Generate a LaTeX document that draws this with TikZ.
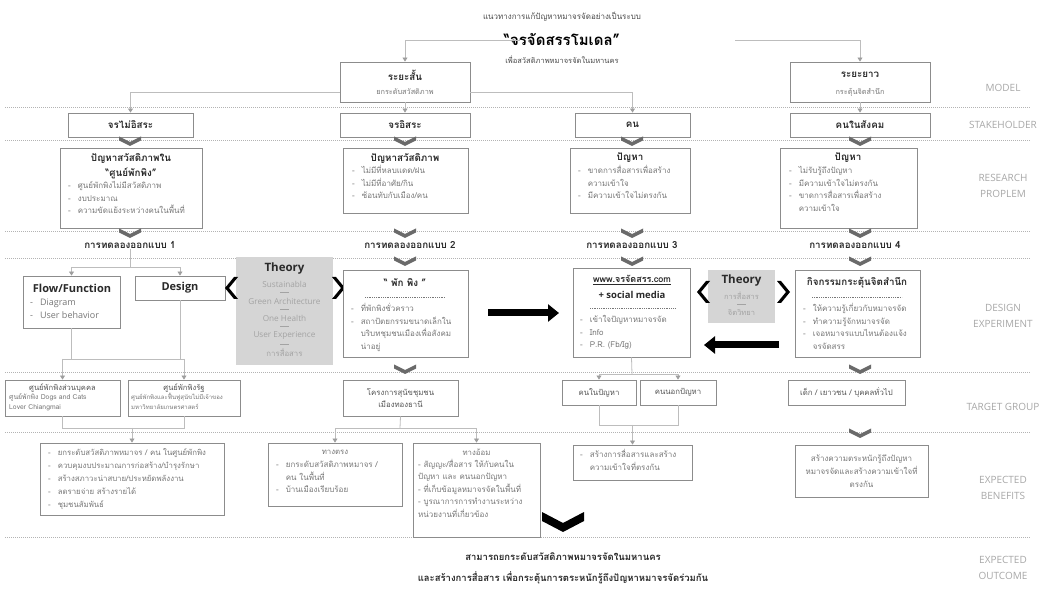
\documentclass[tikz,border=0pt]{standalone}
\usepackage{fontspec}
\setmainfont[Script=Thai]{Loma}
\newfontfamily\en{Open Sans}
\usetikzlibrary{arrows.meta,fit,calc}
\definecolor{bxc}{HTML}{8C8C8C}
\definecolor{cnc}{HTML}{BDBDBD}
\definecolor{ahc}{HTML}{9E9E9E}
\definecolor{dk}{HTML}{2A2A2A}
\definecolor{itc}{HTML}{777777}
\definecolor{thf}{HTML}{D5D5D5}
\definecolor{tht}{HTML}{A3A3A3}
\definecolor{sepc}{HTML}{B3B3B3}
\definecolor{chc}{HTML}{6A6A6A}
\definecolor{lbc}{HTML}{A8A8A8}
\newcommand\mylist[1]{\begin{tabular}{@{}l@{\hspace{7pt}}l@{}}#1\end{tabular}}
\tikzset{
 bx/.style={draw=bxc, line width=0.9pt, fill=white, inner sep=0pt},
 thbox/.style={fill=thf, draw=none, inner sep=0pt},
 hd/.style={font=\bfseries\fontsize{9.8}{11}\selectfont, text=dk, inner sep=0pt},
 ehd/.style={font=\en\bfseries\fontsize{11}{13}\selectfont, text=dk, inner sep=0pt},
 sb/.style={font=\fontsize{7.3}{9}\selectfont, text=itc, inner sep=0pt},
 lst/.style={font=\fontsize{8}{12.5}\selectfont, text=itc, inner sep=0pt, anchor=north west, align=left},
 elst/.style={font=\en\fontsize{9}{13}\selectfont, text=itc, inner sep=0pt, anchor=north west, align=left},
 thtxt/.style={font=\en\fontsize{8.2}{9}\selectfont, text=tht, inner sep=0pt},
 cn/.style={draw=cnc, line width=0.8pt},
 ar/.style={cn, -{Triangle[width=5pt,length=4pt,fill=ahc,color=ahc]}},
 sepl/.style={draw=sepc, line width=0.7pt, dash pattern=on 0.8pt off 1.2pt},
 dsh/.style={draw=itc, line width=0.5pt, dash pattern=on 1pt off 0.8pt},
 lbl/.style={font=\en\fontsize{10}{16}\selectfont, text=lbc, align=center},
 chev/.pic={\fill[chc] (-11,-4.5) -- (0,1) -- (11,-4.5) -- (11,-0.5) -- (0,5) -- (-11,-0.5) -- cycle;},
 lbr/.pic={\fill[black] (5,-11) -- (-4,0) -- (5,11) -- (9,11) -- (0,0) -- (9,-11) -- cycle;},
 rbr/.pic={\fill[black] (-5,-11) -- (4,0) -- (-5,11) -- (-9,11) -- (0,0) -- (-9,-11) -- cycle;},
 bigchev/.pic={\fill[black] (-21,-10) -- (0,1) -- (21,-10) -- (21,-1) -- (0,10) -- (-21,-1) -- cycle;},
 bigarr/.style={line width=7pt, -{Triangle[width=17pt,length=11pt]}},
}
\begin{document}
\begin{tikzpicture}[x=1pt,y=-1pt]
\useasboundingbox[fill=white] (0,0) rectangle (1050,593);

% separators
\foreach \yy in {107,140,231,258,372,432,537} {\draw[sepl] (5,\yy) -- (1030,\yy);}

% title
\node[font=\fontsize{8}{10}\selectfont, text=dk!85] (ttop) at (562,17) {แนวทางการแก้ปัญหาหมาจรจัดอย่างเป็นระบบ};
\node[font=\bfseries\fontsize{15}{17}\selectfont, text=black] (ttl) at (562,39) {“จรจัดสรรโมเดล”};
\node[font=\fontsize{7.5}{9}\selectfont, text=dk!85] (tsub) at (562,60) {เพื่อสวัสดิภาพหมาจรจัดในมหานคร};
\coordinate (tl) at (520,40);
\coordinate (tr) at (735,40);

% right labels
\node[lbl] (lmodel) at (1003,88) {MODEL};
\node[lbl] (lstake) at (1003,125) {STAKEHOLDER};
\node[lbl] (lres) at (1003,186) {RESEARCH\\PROPLEM};
\node[lbl] (ldes) at (1003,316) {DESIGN\\EXPERIMENT};
\node[lbl] (ltar) at (1003,407) {TARGET GROUP};
\node[lbl] (lben) at (1003,488) {EXPECTED\\BENEFITS};
\node[lbl] (lout) at (1003,568) {EXPECTED\\OUTCOME};

% model
\node[bx, fit={(340,62) (470,102)}] (m1) {};
\node[hd] (m1a) at (405,75) {ระยะสั้น};
\node[sb] (m1b) at (405,92) {ยกระดับสวัสดิภาพ};
\node[bx, fit={(790,62) (930,102)}] (m2) {};
\node[hd] (m2a) at (860,75) {ระยะยาว};
\node[sb] (m2b) at (860,92) {กระตุ้นจิตสำนึก};
\draw[ar] (tl) -| (m1.north);
\draw[ar] (tr) -| (m2.north);

% stakeholders
\node[bx, fit={(68,113) (193,137)}] (s1) {};
\node[hd] (s1a) at (s1) {จรไม่อิสระ};
\node[bx, fit={(340,113) (470,137)}] (s2) {};
\node[hd] (s2a) at (s2) {จรอิสระ};
\node[bx, fit={(575,113) (690,137)}] (s3) {};
\node[hd] (s3a) at (s3) {คน};
\node[bx, fit={(790,113) (930,137)}] (s4) {};
\node[hd] (s4a) at (s4) {คนในสังคม};
\draw[ar] ($(m1.west)+(0,10)$) -| (s1.north);
\draw[ar] (m1.south) -- (s2.north);
\draw[ar] ($(m1.east)+(0,10)$) -| (s3.north);
\draw[ar] (m2.south) -- (s4.north);
\foreach \xx in {130,405,632,860} {\pic at (\xx,141) {chev};}

% research problems
\node[bx, fit={(60,148) (202,228)}] (r1) {};
\node[hd] (r1a) at (131,158) {ปัญหาสวัสดิภาพใน};
\node[hd] (r1b) at (131,173) {“ศูนย์พักพิง”};
\node[lst] (r1c) at (68,180) {\mylist{- & ศูนย์พักพิงไม่มีสวัสดิภาพ\\ - & งบประมาณ\\ - & ความขัดแย้งระหว่างคนในพื้นที่}};
\node[bx, fit={(343,148) (468,213)}] (r2) {};
\node[hd] (r2a) at (405,158) {ปัญหาสวัสดิภาพ};
\node[lst] (r2c) at (352,165) {\mylist{- & ไม่มีที่หลบแดด/ฝน\\ - & ไม่มีที่อาศัย/กิน\\ - & ซ้อนทับกับเมือง/คน}};
\node[bx, fit={(570,148) (690,213)}] (r3) {};
\node[hd] (r3a) at (630,158) {ปัญหา};
\node[lst] (r3c) at (578,165) {\mylist{- & ขาดการสื่อสารเพื่อสร้าง\\ & ความเข้าใจ\\ - & มีความเข้าใจไม่ตรงกัน}};
\node[bx, fit={(780,148) (917,228)}] (r4) {};
\node[hd] (r4a) at (848,158) {ปัญหา};
\node[lst] (r4c) at (789,165) {\mylist{- & ไม่รับรู้ถึงปัญหา\\ - & มีความเข้าใจไม่ตรงกัน\\ - & ขาดการสื่อสารเพื่อสร้าง\\ & ความเข้าใจ}};
\foreach \xx in {130,405,632,860} {\pic at (\xx,233) {chev};}

% experiment titles
\node[hd] (e1) at (130,245) {การทดลองออกแบบ 1};
\node[hd] (e2) at (410,245) {การทดลองออกแบบ 2};
\node[hd] (e3) at (632,245) {การทดลองออกแบบ 3};
\node[hd] (e4) at (855,245) {การทดลองออกแบบ 4};
\foreach \xx in {405,632,860} {\pic at (\xx,261) {chev};}

% design col 1
\node[bx, fit={(23,276) (120,328)}] (d1a) {};
\node[ehd] (d1at) at (72,288) {Flow/Function};
\node[elst] (d1al) at (30,296) {\mylist{- & Diagram\\ - & User behavior}};
\node[bx, fit={(135,276) (225,300)}] (d1b) {};
\node[ehd] (d1bt) at (d1b) {Design};
\coordinate (j1) at (130,267);
\draw[cn] (e1.south) -- (j1);
\draw[ar] (j1) -| (d1a.north);
\draw[ar] (j1) -| (d1b.north);

% theory 1
\node[thbox, fit={(236,257) (333,365)}] (th1) {};
\node[ehd, font=\en\bfseries\fontsize{11.5}{13}\selectfont] (th1t) at (284.5,269) {Theory};
\node[thtxt] (th1a) at (284.5,284) {Sustainabla};
\node[thtxt] (th1b) at (284.5,301) {Green Architecture};
\node[thtxt] (th1c) at (284.5,318) {One Health};
\node[thtxt] (th1d) at (284.5,335) {User Experience};
\node[thtxt, font=\fontsize{7.8}{9}\selectfont] (th1e) at (284.5,353) {การสื่อสาร};
\foreach \yy in {292.5,309.5,326.5,344} {\draw[tht, line width=0.5pt] (280,\yy) -- (289,\yy);}
\pic at (229,288) {lbr};
\pic at (341,288) {rbr};

% design col 2
\node[bx, fit={(343,270) (468,357)}] (d2) {};
\node[hd] (d2t) at (405,283) {“ พัก พิง ”};
\draw[dsh] (365,297) -- (445,297);
\node[lst] (d2l) at (351,303) {\mylist{- & ที่พักพิงชั่วคราว\\ - & สถาปัตยกรรมขนาดเล็กใน\\ & บริบทชุมชนเมืองเพื่อสังคม\\ & น่าอยู่}};
\coordinate (a1s) at (488,313);
\coordinate (a1e) at (559,313);
\draw[bigarr] (a1s) -- (a1e);

% design col 3
\node[bx, fit={(573,268) (690,357)}] (d3) {};
\node[hd, font=\bfseries\fontsize{9}{10}\selectfont] (d3t) at (632,280) {\underline{www.จรจัดสรร.com}};
\node[ehd, font=\en\bfseries\fontsize{9.5}{11}\selectfont] (d3u) at (632,295) {+ social media};
\draw[dsh] (590,308) -- (675,308);
\node[lst] (d3l) at (580,314) {\mylist{- & เข้าใจปัญหาหมาจรจัด\\ - & Info\\ - & P.R. (Fb/Ig)}};

% theory 2
\node[thbox, fit={(708,270) (775,323)}] (th2) {};
\node[ehd, font=\en\bfseries\fontsize{11.5}{13}\selectfont] (th2t) at (741.5,281) {Theory};
\node[thtxt, font=\fontsize{7.5}{9}\selectfont] (th2a) at (741.5,296) {การสื่อสาร};
\draw[tht, line width=0.5pt] (737,304) -- (746,304);
\node[thtxt, font=\fontsize{7.5}{9}\selectfont] (th2b) at (741.5,313) {จิตวิทยา};
\pic at (701,292) {lbr};
\pic at (786,292) {rbr};
\coordinate (a2s) at (779,345);
\coordinate (a2e) at (704,345);
\draw[bigarr] (a2s) -- (a2e);

% design col 4
\node[bx, fit={(795,270) (920,357)}] (d4) {};
\node[hd] (d4t) at (857,283) {กิจกรรมกระตุ้นจิตสำนึก};
\draw[dsh] (812,297) -- (902,297);
\node[lst] (d4l) at (803,303) {\mylist{- & ให้ความรู้เกี่ยวกับหมาจรจัด\\ - & ทำความรู้จักหมาจรจัด\\ - & เจอหมาจรแบบไหนต้องแจ้ง\\ & จรจัดสรร}};

% target groups
\node[bx, fit={(5,380) (120,416)}] (t1a) {};
\node[sb, text=dk!80, font=\fontsize{7.6}{9}\selectfont] (t1at) at (62.5,388) {ศูนย์พักพิงส่วนบุคคล};
\node[lst, font=\fontsize{6.8}{10}\selectfont] (t1al) at (9,393) {ศูนย์พักพิง Dogs and Cats\\Lover Chiangmai};
\node[bx, fit={(128,380) (240,416)}] (t1b) {};
\node[sb, text=dk!80, font=\fontsize{7.6}{9}\selectfont] (t1bt) at (184,388) {ศูนย์พักพิงรัฐ};
\node[lst, font=\fontsize{6}{10}\selectfont] (t1bl) at (131,393) {ศูนย์พักพิงและฟื้นฟูสุนัขไม่มีเจ้าของ\\มหาวิทยาลัยเกษตรศาสตร์};
\coordinate (j2l) at (62.5,359);
\coordinate (j2r) at (184,359);
\draw[cn] (d1a.south) -- (d1a.south |- j2l);
\draw[cn] (d1b.south) -- (d1b.south |- j2l);
\draw[cn] (j2l) -- (j2r);
\draw[ar] (j2l) -- (t1a.north);
\draw[ar] (j2r) -- (t1b.north);

\node[bx, fit={(343,380) (458,416)}] (t2) {};
\node[sb, align=center, text=dk!80, font=\fontsize{7.8}{12.5}\selectfont] (t2t) at (t2) {โครงการสุนัขชุมชน\\เมืองทองธานี};
\pic at (405,369) {chev};

\node[bx, fit={(562,380) (636,405)}] (t3a) {};
\node[sb, text=dk!80, font=\fontsize{7.8}{9}\selectfont] (t3at) at (t3a) {คนในปัญหา};
\node[bx, fit={(640,380) (716,405)}] (t3b) {};
\node[sb, text=dk!80, font=\fontsize{7.8}{9}\selectfont] (t3bt) at (t3b) {คนนอกปัญหา};
\coordinate (j3) at (632,374);
\draw[cn] (d3.south) -- (j3);
\draw[ar] (j3) -| (t3a.north);
\draw[ar] (j3) -| (t3b.north);

\node[bx, fit={(788,380) (905,405)}] (t4) {};
\node[sb, text=dk!80, font=\fontsize{7.8}{9}\selectfont] (t4t) at (t4) {เด็ก / เยาวชน / บุคคลทั่วไป};
\pic at (860,369) {chev};

% benefits
\node[bx, fit={(40,443) (224,515)}] (b1) {};
\node[lst, font=\fontsize{7.8}{13}\selectfont] (b1l) at (48,446) {\mylist{- & ยกระดับสวัสดิภาพหมาจร / คน ในศูนย์พักพิง\\ - & ควบคุมงบประมาณการก่อสร้าง/บำรุงรักษา\\ - & สร้างสภาวะน่าสบาย/ประหยัดพลังงาน\\ - & ลดรายจ่าย สร้างรายได้\\ - & ชุมชนสัมพันธ์}};
\coordinate (k1l) at (62.5,428);
\coordinate (k1r) at (184,428);
\draw[cn] (t1a.south) -- (k1l) -- (k1r) -- (t1b.south);
\draw[ar] (b1.north |- k1l) -- (b1.north);

\node[bx, fit={(268,443) (402,506)}] (b2a) {};
\node[sb, font=\fontsize{7.8}{9}\selectfont] (b2at) at (335,452) {ทางตรง};
\node[lst] (b2al) at (276,459) {\mylist{- & ยกระดับสวัสดิภาพหมาจร /\\ & คน ในพื้นที่\\ - & บ้านเมืองเรียบร้อย}};
\node[bx, fit={(413,443) (540,537)}] (b2b) {};
\node[sb, font=\fontsize{7.8}{9}\selectfont] (b2bt) at (476.5,452) {ทางอ้อม};
\node[lst] (b2bl) at (418,459) {- สัญญะ/สื่อสาร ให้กับคนใน\\ปัญหา และ คนนอกปัญหา\\- ที่เก็บข้อมูลหมาจรจัดในพื้นที่\\- บูรณาการการทำงานระหว่าง\\หน่วยงานที่เกี่ยวข้อง};
\coordinate (k2) at (400,428);
\draw[cn] (t2.south) -- (k2);
\draw[ar] (k2) -| (b2a.north);
\draw[ar] (k2) -| (b2b.north);

\node[bx, fit={(573,445) (692,480)}] (b3) {};
\node[lst] (b3l) at (580,449) {\mylist{- & สร้างการสื่อสารและสร้าง\\ & ความเข้าใจที่ตรงกัน}};
\draw[cn] (t3a.south) -- (t3a.south |- 0,425) -- (t3b.south |- 0,425) -- (t3b.south);
\draw[ar] (b3.north |- 0,425) -- (b3.north);

\node[bx, fit={(795,445) (928,497)}] (b4) {};
\node[sb, align=center, font=\fontsize{8}{13}\selectfont] (b4t) at (b4) {สร้างความตระหนักรู้ถึงปัญหา\\หมาจรจัดและสร้างความเข้าใจที่\\ตรงกัน};
\pic at (860,433) {chev};

% outcome
\pic at (563,522) {bigchev};
\node[font=\bfseries\fontsize{9.5}{12}\selectfont, text=dk] (o1) at (563,557) {สามารถยกระดับสวัสดิภาพหมาจรจัดในมหานคร};
\node[font=\bfseries\fontsize{9.5}{12}\selectfont, text=dk] (o2) at (563,578) {และสร้างการสื่อสาร เพื่อกระตุ้นการตระหนักรู้ถึงปัญหาหมาจรจัดร่วมกัน};
\end{tikzpicture}
\end{document}
